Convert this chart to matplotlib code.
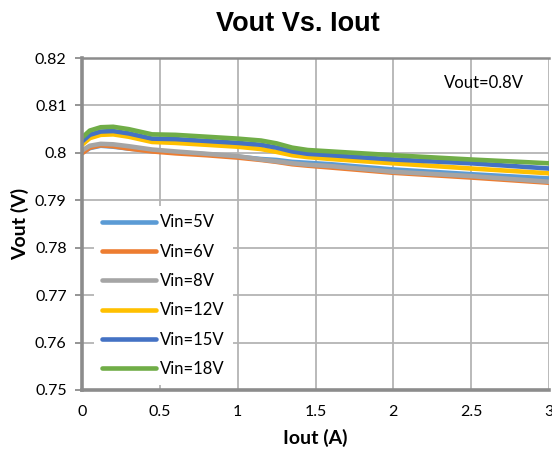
import matplotlib
matplotlib.use("Agg")
import matplotlib.pyplot as plt

iout = [0.0, 0.05, 0.12, 0.2, 0.3, 0.45, 0.6, 0.8, 1.0, 1.15, 1.25, 1.35, 1.45, 1.6, 2.0, 2.5, 3.0]

vin5 = [0.8000, 0.8010, 0.8015, 0.8013, 0.8009, 0.8004, 0.8001, 0.7997, 0.7992, 0.7987, 0.7985, 0.7981, 0.7979, 0.7976, 0.7965, 0.7955, 0.7946]
vin6 = [0.7999, 0.8011, 0.8016, 0.8014, 0.8009, 0.8003, 0.7999, 0.7995, 0.7990, 0.7985, 0.7981, 0.7976, 0.7973, 0.7969, 0.7958, 0.7948, 0.7937]
vin8 = [0.8005, 0.8015, 0.8019, 0.8018, 0.8014, 0.8007, 0.8003, 0.7998, 0.7993, 0.7986, 0.7982, 0.7978, 0.7975, 0.7972, 0.7960, 0.7951, 0.7939]
vin12 = [0.8017, 0.8031, 0.8038, 0.8039, 0.8034, 0.8023, 0.8021, 0.8017, 0.8013, 0.8008, 0.8002, 0.7995, 0.7991, 0.7987, 0.7978, 0.7967, 0.7957]
vin15 = [0.8024, 0.8038, 0.8045, 0.8046, 0.8041, 0.8030, 0.8029, 0.8025, 0.8021, 0.8017, 0.8011, 0.8003, 0.7998, 0.7995, 0.7986, 0.7978, 0.7967]
vin18 = [0.8032, 0.8047, 0.8054, 0.8055, 0.8050, 0.8039, 0.8038, 0.8034, 0.8030, 0.8026, 0.8020, 0.8011, 0.8006, 0.8003, 0.7995, 0.7986, 0.7978]

labels = ["Vin=5V", "Vin=6V", "Vin=8V", "Vin=12V", "Vin=15V", "Vin=18V"]
colors = ["#5b9bd5", "#ed7d31", "#a5a5a5", "#ffc000", "#4472c4", "#70ad47"]
series = [vin5, vin6, vin8, vin12, vin15, vin18]

xticks = [0, 0.5, 1, 1.5, 2, 2.5, 3]
xticklabels = ["0", "0.5", "1", "1.5", "2", "2.5", "3"]
yticks = [0.75, 0.76, 0.77, 0.78, 0.79, 0.80, 0.81, 0.82]
yticklabels = ["0.75", "0.76", "0.77", "0.78", "0.79", "0.8", "0.81", "0.82"]

plt.rcParams['font.family'] = ['Lato', 'DejaVu Sans']

fig = plt.figure(figsize=(5.52, 4.55), dpi=100)
ax = fig.add_axes([0.1486, 0.1429, 0.846, 0.7296])

for ys, c, lab in zip(series, colors, labels):
    ax.plot(iout, ys, color=c, lw=3.3, label=lab, solid_capstyle='round', solid_joinstyle='round')

ax.set_xlim(0, 3)
ax.set_ylim(0.75, 0.82)
ax.set_xticks(xticks)
ax.set_xticklabels(xticklabels, fontsize=11.5)
ax.set_yticks(yticks)
ax.set_yticklabels(yticklabels, fontsize=11.5)
ax.grid(True, color="#b4b4b4", lw=1.3)
ax.set_axisbelow(True)
ax.tick_params(axis='x', length=0, pad=11, colors='#000000')
ax.tick_params(axis='y', length=5, color='#8c8c8c', width=1.3, direction='out', pad=6)

for side in ['left', 'bottom']:
    ax.spines[side].set_color('#8c8c8c')
    ax.spines[side].set_linewidth(2.6)
ax.spines['top'].set_color('#8c8c8c')
ax.spines['top'].set_linewidth(1.8)
ax.spines['right'].set_visible(False)

ax.set_xlabel("Iout (A)", fontsize=14, fontweight='bold', labelpad=7)
ax.set_ylabel("Vout (V)", fontsize=14, fontweight='bold', labelpad=4)
fig.text(298 / 552, 1 - 24 / 455, "Vout Vs. Iout", ha='center', va='center', fontsize=19.5,
         fontweight='bold', family=['Liberation Sans', 'DejaVu Sans'])

ax.text(0.946, 0.925, "Vout=0.8V", transform=ax.transAxes, ha='right', va='center', fontsize=12)

leg = ax.legend(loc='upper left', bbox_to_anchor=(0.025, 0.554), borderaxespad=0, frameon=True,
                fontsize=12, handlelength=3.25, labelspacing=0.8, borderpad=0.5,
                handletextpad=0.25, fancybox=False)
leg.get_frame().set_edgecolor('none')
leg.get_frame().set_facecolor('white')
leg.get_frame().set_alpha(1)

fig.savefig("out.png", dpi=100)
